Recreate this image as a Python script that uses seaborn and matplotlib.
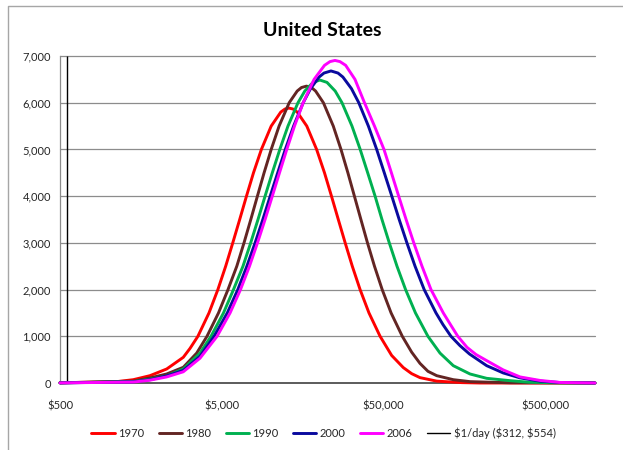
import pandas as pd
import numpy as np
import matplotlib
matplotlib.use('Agg')
import matplotlib.pyplot as plt
import seaborn as sns
from matplotlib.lines import Line2D
from matplotlib.ticker import FuncFormatter, FixedLocator, NullLocator

# income ($, log axis) and people (thousands), per year
inc_1970 = [500, 1121, 1420, 1800, 2285, 2894, 3184, 3563, 4173, 4736, 5292, 5855, 6461,
            7116, 7864, 8800, 10120, 11600, 12315, 13040, 13800, 14655, 16800, 19320,
            21615, 23875, 26310, 29020, 32115, 35885, 40725, 47705, 56250, 66400, 74800,
            84200, 106850, 153150, 197750, 1018000]
ppl_1970 = [5, 29, 71, 157, 300, 550, 740, 1000, 1500, 2000, 2500, 3000, 3500,
            4000, 4500, 5000, 5500, 5800, 5865, 5885, 5865, 5800, 5500, 5000,
            4500, 4000, 3500, 3000, 2500, 2000, 1500, 1000, 590, 330, 200,
            115, 40, 8, 0, 0]

inc_1980 = [500, 1420, 1800, 2285, 2894, 3503, 4056, 4778, 5470, 6200, 6870, 7568, 8315,
            9145, 10120, 11323, 13075, 14655, 15575, 16727, 17965, 19040, 21280, 24495,
            27340, 30160, 33095, 36305, 39870, 44050, 49155, 55800, 65445, 74800, 84200,
            94350, 106850, 135300, 171700, 303300, 1018000]
ppl_1980 = [3, 40, 107, 193, 336, 640, 1000, 1500, 2000, 2500, 3000, 3500, 4000,
            4500, 5000, 5500, 6000, 6250, 6325, 6355, 6325, 6250, 6000, 5500,
            5000, 4500, 4000, 3500, 3000, 2500, 2000, 1500, 1000, 660, 420,
            250, 157, 71, 29, 5, 0]

inc_1990 = [500, 1420, 1800, 2285, 2894, 3670, 4294, 5130, 5915, 6770, 7557, 8385, 9275,
            10280, 11440, 12850, 14820, 16330, 18355, 20265, 22395, 25170, 27730, 31970,
            35935, 39985, 44425, 49005, 54390, 60700, 68590, 78950, 94270, 112000,
            135300, 171700, 217700, 303300, 403000, 618000, 1018000]
ppl_1990 = [2, 30, 80, 150, 300, 640, 1000, 1500, 2000, 2500, 3000, 3500, 4000,
            4500, 5000, 5500, 6000, 6250, 6435, 6485, 6435, 6250, 6000, 5500,
            5000, 4500, 4000, 3500, 3000, 2500, 2000, 1500, 1000, 640,
            371, 193, 100, 50, 15, 3, 0]

inc_2000 = [500, 1420, 1800, 2285, 2894, 3670, 4487, 5415, 6290, 7155, 8045, 8980, 9975,
            11100, 12370, 13920, 15960, 17710, 20015, 21460, 23705, 26195, 28085, 31750,
            35225, 40385, 45450, 50650, 56370, 62610, 69900, 78500, 89400, 105750,
            116850, 130900, 148800, 170400, 217700, 275600, 349900, 464800, 618000, 1018000]
ppl_2000 = [2, 25, 70, 150, 270, 570, 1000, 1500, 2000, 2500, 3000, 3500, 4000,
            4500, 5000, 5500, 6000, 6300, 6550, 6635, 6680, 6635, 6550, 6300,
            6000, 5500, 5000, 4500, 4000, 3500, 3000, 2500, 2000, 1500,
            1250, 1000, 800, 621, 371, 215, 110, 40, 10, 0]

inc_2006 = [500, 1420, 1800, 2285, 2894, 3670, 4683, 5635, 6535, 7428, 8325, 9275, 10280,
            11390, 12635, 14100, 15960, 18635, 21615, 23370, 25100, 26945, 29225, 33365,
            38200, 44050, 50430, 56045, 62180, 69090, 77090, 86650, 98500, 117350,
            130000, 144250, 164450, 186900, 217700, 275600, 349900, 464800, 618000, 1018000]
ppl_2006 = [2, 20, 60, 130, 240, 530, 1000, 1500, 2000, 2500, 3000, 3500, 4000,
            4500, 5000, 5500, 6000, 6500, 6800, 6880, 6905, 6880, 6800, 6500,
            6000, 5500, 5000, 4500, 4000, 3500, 3000, 2500, 2000, 1500,
            1250, 1000, 764, 610, 479, 280, 130, 55, 12, 0]

years = ['1970', '1980', '1990', '2000', '2006']
colors = ['#ff0000', '#632523', '#00b050', '#0a0a9e', '#ff00ff']
poverty_lines = [312, 554]
poverty_label = '$1/day ($312, $554)'

x_ticks = [500, 5000, 50000, 500000]
y_ticks = [0, 1000, 2000, 3000, 4000, 5000, 6000, 7000]

frames = []
for yr, inc, ppl in zip(years,
                        [inc_1970, inc_1980, inc_1990, inc_2000, inc_2006],
                        [ppl_1970, ppl_1980, ppl_1990, ppl_2000, ppl_2006]):
    frames.append(pd.DataFrame({'income': inc, 'people': ppl, 'year': yr}))
df = pd.concat(frames, ignore_index=True)

sns.set_style('white')
plt.rcParams['font.family'] = ['Lato', 'DejaVu Sans']

fig = plt.figure(figsize=(6.23, 4.5), dpi=100)
ax = fig.add_axes([60 / 623, 1 - 383 / 450, 535 / 623, 327 / 450])

# horizontal gridlines behind everything
for yv in y_ticks[1:]:
    ax.axhline(yv, color='#8c8c8c', lw=0.9, zorder=0)

ax.vlines(poverty_lines, 0, 7000, color='black', lw=1.0, label=poverty_label, zorder=2)

sns.lineplot(data=df, x='income', y='people', hue='year', palette=colors,
             estimator=None, lw=2.1, ax=ax, legend=False, zorder=3)
for ln in ax.lines:
    ln.set_clip_on(False)
    ln.set_solid_joinstyle('round')

ax.set_xscale('log')
ax.set_xlim(500, 1018000)
ax.set_ylim(0, 7000)
ax.xaxis.set_major_locator(FixedLocator(x_ticks))
ax.xaxis.set_minor_locator(NullLocator())
ax.xaxis.set_major_formatter(FuncFormatter(lambda v, p: f'${v:,.0f}'))
ax.yaxis.set_major_locator(FixedLocator(y_ticks))
ax.yaxis.set_major_formatter(FuncFormatter(lambda v, p: f'{v:,.0f}'))
ax.tick_params(axis='both', which='major', labelsize=8, labelcolor='#262626',
               length=3.5, width=0.8, color='#8c8c8c', direction='out', pad=3)
ax.tick_params(axis='x', pad=9)
ax.set_xlabel('')
ax.set_ylabel('')

for side in ['top', 'right']:
    ax.spines[side].set_visible(False)
ax.spines['left'].set_color('#8c8c8c')
ax.spines['left'].set_linewidth(0.9)
ax.spines['bottom'].set_color('#404040')
ax.spines['bottom'].set_linewidth(1.2)

fig.text(322 / 623, 1 - 30 / 450, 'United States', ha='center', va='center',
         fontsize=14, fontweight='bold', color='black')

handles = [Line2D([], [], color=c, lw=2.1) for c in colors]
handles.append(Line2D([], [], color='black', lw=1.0))
labels = years + [poverty_label]
fig.legend(handles, labels, loc='center', bbox_to_anchor=(323.5 / 623, 1 - 433 / 450),
           ncol=6, frameon=False, fontsize=8, handlelength=2.1, handletextpad=0.3,
           columnspacing=1.3, labelcolor='#262626')

# chart frame (only top and left edges are visible in the crop)
fig.add_artist(Line2D([8 / 623, 8 / 623, 1.0], [0.0, 1 - 5.5 / 450, 1 - 5.5 / 450],
                      transform=fig.transFigure, color='#a6a6a6', lw=1.0))

fig.savefig('out.png', dpi=100)
